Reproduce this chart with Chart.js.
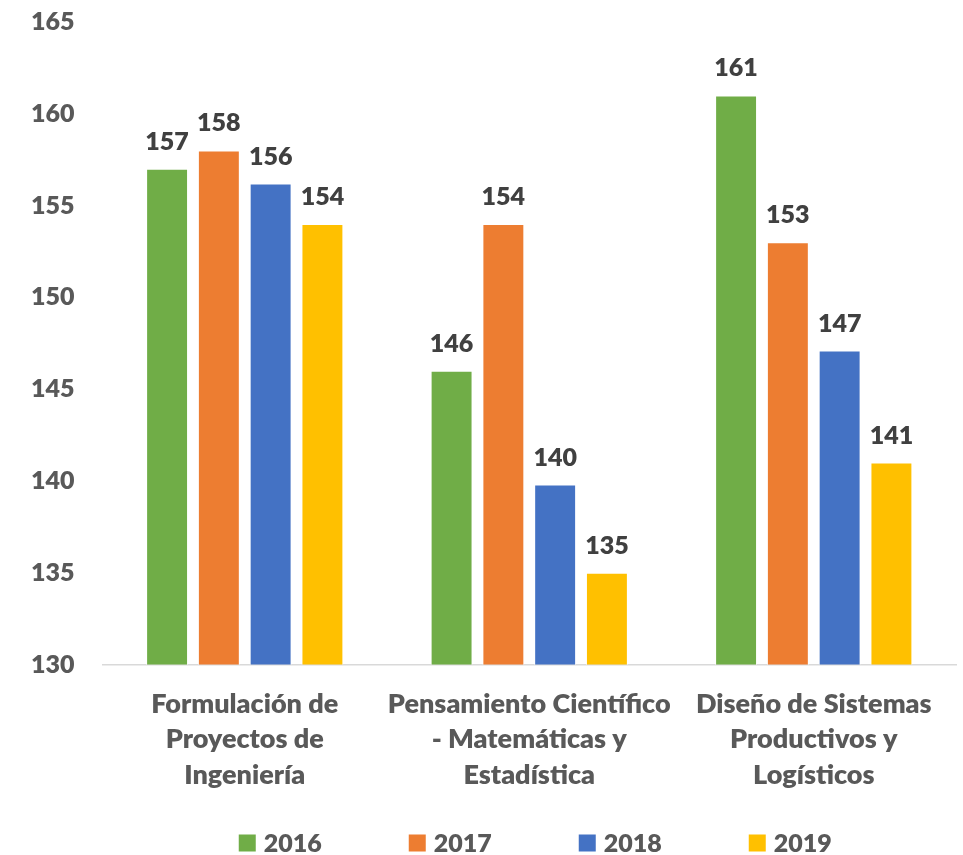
<!DOCTYPE html>
<html>
<head>
<meta charset="utf-8">
<script src="https://cdn.jsdelivr.net/npm/chart.js@4.4.1/dist/chart.umd.min.js"></script>
<style>
  html, body { margin: 0; padding: 0; background: #fff; }
  #wrap { width: 963px; height: 855px; }
</style>
</head>
<body>
<div id="wrap"><canvas id="barChart"></canvas></div>
<script>
var categories = [
    ['Formulación de', 'Proyectos de', 'Ingeniería'],
    ['Pensamiento Científico', '- Matemáticas y', 'Estadística'],
    ['Diseño de Sistemas', 'Productivos y', 'Logísticos']
];
var years = ['2016', '2017', '2018', '2019'];
var values2016 = [157, 146, 161];
var values2017 = [158, 154, 153];
var values2018 = [156.2, 139.8, 147.1];
var values2019 = [154, 135, 141];
var yTicks = [130, 135, 140, 145, 150, 155, 160, 165];
var colors = ['#70AD47', '#ED7D31', '#4472C4', '#FFC000'];

var FONT = 'Lato';
var WEIGHT = '800';

// value labels above each bar
var dataLabels = {
    id: 'dataLabels',
    afterDatasetsDraw: function (chart) {
        var ctx = chart.ctx;
        ctx.save();
        ctx.font = WEIGHT + ' 25px ' + FONT;
        ctx.fillStyle = '#404040';
        ctx.textAlign = 'center';
        ctx.textBaseline = 'alphabetic';
        chart.data.datasets.forEach(function (ds, i) {
            chart.getDatasetMeta(i).data.forEach(function (bar, j) {
                ctx.fillText(Math.round(ds.data[j]), bar.x, bar.y - 19);
            });
        });
        ctx.restore();
    }
};

// legend row at the bottom, wide spacing like the original
var bottomLegend = {
    id: 'bottomLegend',
    afterDraw: function (chart) {
        var ctx = chart.ctx;
        var area = chart.chartArea;
        var pitch = 170, box = 17, gap = 8;
        ctx.save();
        ctx.font = WEIGHT + ' 25px ' + FONT;
        var lastW = box + gap + ctx.measureText(chart.data.datasets[3].label).width;
        var total = pitch * 3 + lastW;
        var x = (area.left + area.right) / 2 + 6 - total / 2;
        var y = 843;
        ctx.textAlign = 'left';
        ctx.textBaseline = 'middle';
        chart.data.datasets.forEach(function (ds) {
            ctx.fillStyle = ds.backgroundColor;
            ctx.fillRect(x, y - box / 2, box, box);
            ctx.fillStyle = '#595959';
            ctx.fillText(ds.label, x + box + gap, y + 1);
            x += pitch;
        });
        ctx.restore();
    }
};

var seriesValues = [values2016, values2017, values2018, values2019];
var datasets = years.map(function (yr, i) {
    return {
        label: yr,
        data: seriesValues[i],
        backgroundColor: colors[i],
        borderColor: '#ffffff',
        borderWidth: 1,
        borderSkipped: 'bottom'
    };
});

var ctx = document.getElementById('barChart').getContext('2d');
var myBarChart = new Chart(ctx, {
    type: 'bar',
    data: {
        labels: categories,
        datasets: datasets
    },
    options: {
        responsive: true,
        maintainAspectRatio: false,
        animation: false,
        categoryPercentage: 0.728,
        barPercentage: 0.81,
        layout: {
            padding: { left: 3, right: 7, top: 22, bottom: 40 }
        },
        plugins: {
            legend: { display: false },
            tooltip: { enabled: false }
        },
        scales: {
            x: {
                grid: { display: false, drawTicks: false },
                border: { display: true, color: '#d9d9d9', width: 1.5 },
                ticks: {
                    color: '#595959',
                    padding: 22,
                    maxRotation: 0,
                    autoSkip: false,
                    font: { family: FONT, size: 27, weight: WEIGHT, lineHeight: 1.315 }
                }
            },
            y: {
                min: yTicks[0],
                max: yTicks[yTicks.length - 1],
                grid: { display: false, drawTicks: false },
                border: { display: false },
                ticks: {
                    stepSize: 5,
                    color: '#595959',
                    padding: 28,
                    font: { family: FONT, size: 25, weight: WEIGHT }
                },
                afterFit: function (scale) {
                    // tick padding should only push labels sideways
                    scale.paddingTop = 0;
                    scale.paddingBottom = 0;
                }
            }
        }
    },
    plugins: [dataLabels, bottomLegend]
});
</script>
</body>
</html>
